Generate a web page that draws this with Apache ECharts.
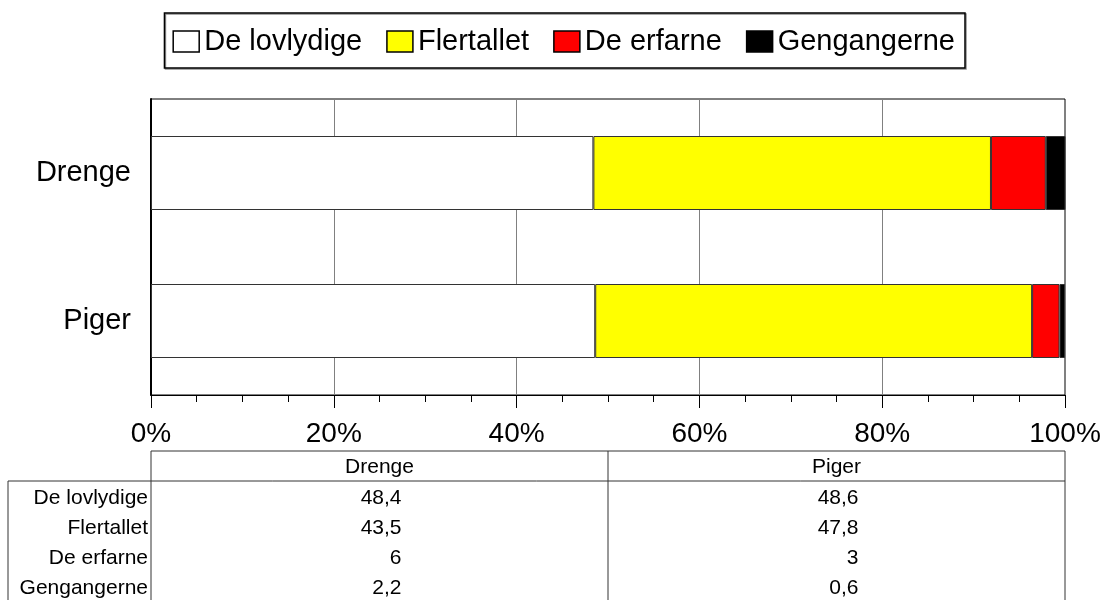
<!DOCTYPE html>
<html>
<head>
<meta charset="utf-8">
<script src="https://cdn.jsdelivr.net/npm/echarts@6/dist/echarts.min.js"></script>
<style>
  html, body { margin: 0; padding: 0; background: #fff; }
  #chart { width: 1111px; height: 600px; }
</style>
</head>
<body>
<div id="chart"></div>
<script>
// groups shown as bars (top to bottom)
const groups = ['Drenge', 'Piger']
const seriesNames = ['De lovlydige', 'Flertallet', 'De erfarne', 'Gengangerne']
const seriesColors = ['#ffffff', '#ffff00', '#ff0000', '#000000']
// percent values per series, in group order
const lovlydige = [48.4, 48.6]
const flertallet = [43.5, 47.8]
const erfarne = [6, 3]
const gengangerne = [2.2, 0.6]
const xTicks = [0, 20, 40, 60, 80, 100]

const values = [lovlydige, flertallet, erfarne, gengangerne]
const FONT = '"Liberation Sans", Arial, sans-serif'

const chart = echarts.init(document.getElementById('chart'))

// data table under the chart, built from the same arrays
const fmt = (v) => String(v).replace('.', ',')
const tbl = { left: 8, rowLeft: 151, colMid: 608, right: 1065, top: 451, headBottom: 481, bottom: 600 }
const cols = [
  { from: tbl.rowLeft, to: tbl.colMid },
  { from: tbl.colMid, to: tbl.right }
]
const line = (x1, y1, x2, y2) => ({
  type: 'line',
  shape: { x1, y1, x2, y2 },
  style: { stroke: '#333', lineWidth: 1 },
  silent: true
})
const txt = (text, x, y, align) => ({
  type: 'text',
  x, y,
  style: { text, textAlign: align, textVerticalAlign: 'middle', font: '21px ' + FONT, fill: '#000' },
  silent: true
})
const table = [
  line(tbl.rowLeft, tbl.top, tbl.right, tbl.top),
  line(tbl.left, tbl.headBottom, tbl.right, tbl.headBottom),
  line(tbl.left, tbl.headBottom, tbl.left, tbl.bottom),
  line(tbl.rowLeft, tbl.top, tbl.rowLeft, tbl.bottom),
  line(tbl.colMid, tbl.top, tbl.colMid, tbl.bottom),
  line(tbl.right, tbl.top, tbl.right, tbl.bottom)
]
groups.forEach((g, gi) => {
  const mid = (cols[gi].from + cols[gi].to) / 2
  table.push(txt(g, mid, 467, 'center'))
  values.forEach((arr, si) => {
    table.push(txt(fmt(arr[gi]), mid + 22, 498 + si * 30, 'right'))
  })
})
seriesNames.forEach((n, si) => {
  table.push(txt(n, 148, 498 + si * 30, 'right'))
})

chart.setOption({
  animation: false,
  backgroundColor: '#fff',
  textStyle: { fontFamily: FONT },
  legend: {
    right: 146,
    top: 13,
    padding: [14, 10, 12, 8],
    itemGap: 24,
    itemWidth: 26,
    itemHeight: 21,
    icon: 'rect',
    borderColor: '#000',
    borderWidth: 1.5,
    shadowColor: 'rgba(0,0,0,0.45)',
    shadowOffsetX: 1,
    shadowOffsetY: 1,
    data: seriesNames,
    itemStyle: { borderColor: '#000', borderWidth: 1.5 },
    textStyle: { fontSize: 29, color: '#000', fontFamily: FONT, padding: [0, 0, 0, 0] }
  },
  grid: {
    left: 151, right: 46, top: 99, bottom: 205,
    show: true, borderColor: '#000', borderWidth: 1
  },
  xAxis: {
    type: 'value',
    min: 0,
    max: 100,
    interval: 20,
    axisLine: { show: true, lineStyle: { color: '#000', width: 1 } },
    axisTick: { show: true, length: 13, lineStyle: { color: '#000' } },
    minorTick: { show: true, splitNumber: 4, length: 7, lineStyle: { color: '#000' } },
    splitLine: { show: true, lineStyle: { color: '#808080', width: 1 } },
    axisLabel: {
      margin: 25,
      fontSize: 28,
      color: '#000',
      fontFamily: FONT,
      formatter: (v) => (xTicks.includes(v) ? v + '%' : '')
    }
  },
  yAxis: {
    type: 'category',
    inverse: true,
    data: groups,
    axisLine: { show: true, lineStyle: { color: '#000', width: 2 } },
    axisTick: { show: false },
    axisLabel: { margin: 20, fontSize: 29, color: '#000', fontFamily: FONT }
  },
  series: seriesNames.map((name, si) => ({
    name,
    type: 'bar',
    stack: 'total',
    barWidth: '50%',
    data: values[si],
    itemStyle: { color: seriesColors[si], borderColor: '#333', borderWidth: 1 }
  })),
  graphic: table
})
</script>
</body>
</html>
